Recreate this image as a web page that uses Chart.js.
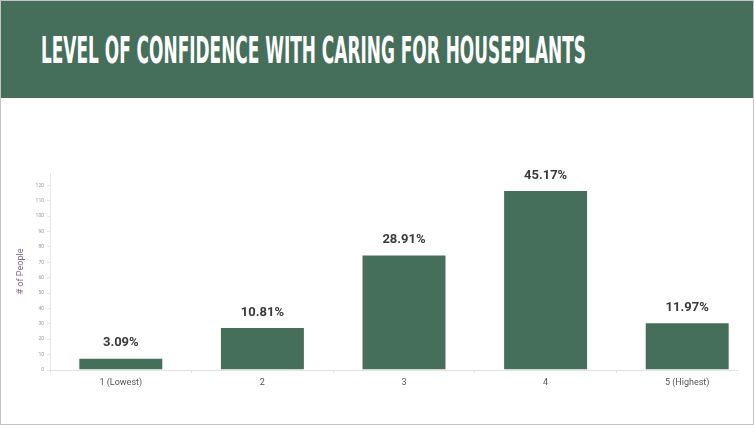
<!DOCTYPE html>
<html>
<head>
<meta charset="utf-8">
<script src="https://cdn.jsdelivr.net/npm/chart.js@4.4.1/dist/chart.umd.min.js"></script>
<style>
    html, body { margin: 0; padding: 0; background: #fff; }
    body { width: 754px; height: 425px; overflow: hidden; position: relative; font-family: Roboto, "Liberation Sans", sans-serif; }
    .header { position: absolute; left: 0; top: 0; width: 754px; height: 98px; background: #466f5b; }
    .title { position: absolute; left: 41px; top: 31px; margin: 0; color: #fff; font-family: "Liberation Sans Narrow", "DejaVu Sans Condensed", sans-serif; font-weight: bold; font-size: 34px; line-height: 36px; white-space: nowrap; transform-origin: left top; letter-spacing: 0; }
    .wrap { position: absolute; left: 0; top: 100px; width: 760px; height: 300px; }
    .frame { position: absolute; left: 0; top: 0; width: 752px; height: 423px; border: 1px solid #c4c4c4; pointer-events: none; }
</style>
</head>
<body>
<div class="header"><h1 class="title" id="title">LEVEL OF CONFIDENCE WITH CARING FOR HOUSEPLANTS</h1></div>
<div class="wrap"><canvas id="confidenceChart"></canvas></div>
<div class="frame"></div>
<script>
// chart data
const categories = ["1 (Lowest)", "2", "3", "4", "5 (Highest)"];
const peopleCounts = [8, 28, 75, 117, 31];
const percentLabels = ["3.09%", "10.81%", "28.91%", "45.17%", "11.97%"];

const barColor = "#466f5b";

// squeeze the title into the condensed look of the original
const titleEl = document.getElementById("title");
const titleScale = 545 / titleEl.scrollWidth;
titleEl.style.transform = "scale(" + titleScale + ", 1.08)";

// percentage labels above each bar
const percentPlugin = {
    id: "percentLabels",
    afterDatasetsDraw(chart) {
        const ctx = chart.ctx;
        const meta = chart.getDatasetMeta(0);
        ctx.save();
        ctx.fillStyle = "#3a3a3a";
        ctx.font = "bold 13px Roboto, 'Liberation Sans', sans-serif";
        ctx.textAlign = "center";
        ctx.textBaseline = "bottom";
        meta.data.forEach((bar, i) => {
            ctx.fillText(percentLabels[i], bar.x, bar.y - 8);
        });
        ctx.restore();
    },
};

// baseline that stops a little short of the right edge
const baselinePlugin = {
    id: "baseline",
    beforeDatasetsDraw(chart) {
        const ctx = chart.ctx;
        const y = chart.scales.y.getPixelForValue(0);
        ctx.save();
        ctx.strokeStyle = "#e2e2e2";
        ctx.lineWidth = 1;
        ctx.beginPath();
        ctx.moveTo(chart.chartArea.left, y + 0.5);
        ctx.lineTo(chart.chartArea.right - 19, y + 0.5);
        ctx.stroke();
        ctx.restore();
    },
};

new Chart(document.getElementById("confidenceChart").getContext("2d"), {
    type: "bar",
    data: {
        labels: categories,
        datasets: [
            {
                label: "# of People",
                data: peopleCounts,
                backgroundColor: barColor,
                borderColor: "rgba(255,255,255,0.35)",
                borderWidth: 1,
                barPercentage: 0.6,
                categoryPercentage: 1,
            },
        ],
    },
    options: {
        responsive: true,
        maintainAspectRatio: false,
        animation: false,
        layout: {
            padding: { top: 73, right: 2, bottom: 0, left: 0 },
        },
        scales: {
            x: {
                afterFit: function (scale) {
                    scale.height = 30;
                },
                grid: {
                    drawOnChartArea: false,
                    drawTicks: true,
                    tickLength: 3,
                    color: "#e2e2e2",
                },
                border: { display: false },
                ticks: {
                    color: "#555",
                    font: { size: 9, family: "Roboto, 'Liberation Sans', sans-serif" },
                    padding: 4,
                },
            },
            y: {
                min: 0,
                max: 128,
                afterFit: function (scale) {
                    scale.width = 50;
                },
                afterBuildTicks: function (scale) {
                    scale.ticks = scale.ticks.filter((t) => t.value % 10 === 0 && t.value <= 120);
                },
                grid: {
                    drawOnChartArea: false,
                    drawTicks: true,
                    tickLength: 3,
                    color: "#e6e6e6",
                },
                border: { color: "#e6e6e6" },
                ticks: {
                    stepSize: 10,
                    color: "#999",
                    font: { size: 5, family: "Roboto, 'Liberation Sans', sans-serif" },
                    padding: 3,
                },
                title: {
                    display: true,
                    text: "# of People",
                    color: "#7e6a7e",
                    font: { size: 9, family: "Roboto, 'Liberation Sans', sans-serif" },
                    padding: { top: 15, bottom: 0 },
                },
            },
        },
        plugins: {
            legend: { display: false },
            tooltip: { enabled: false },
        },
    },
    plugins: [percentPlugin, baselinePlugin],
});
</script>
</body>
</html>
